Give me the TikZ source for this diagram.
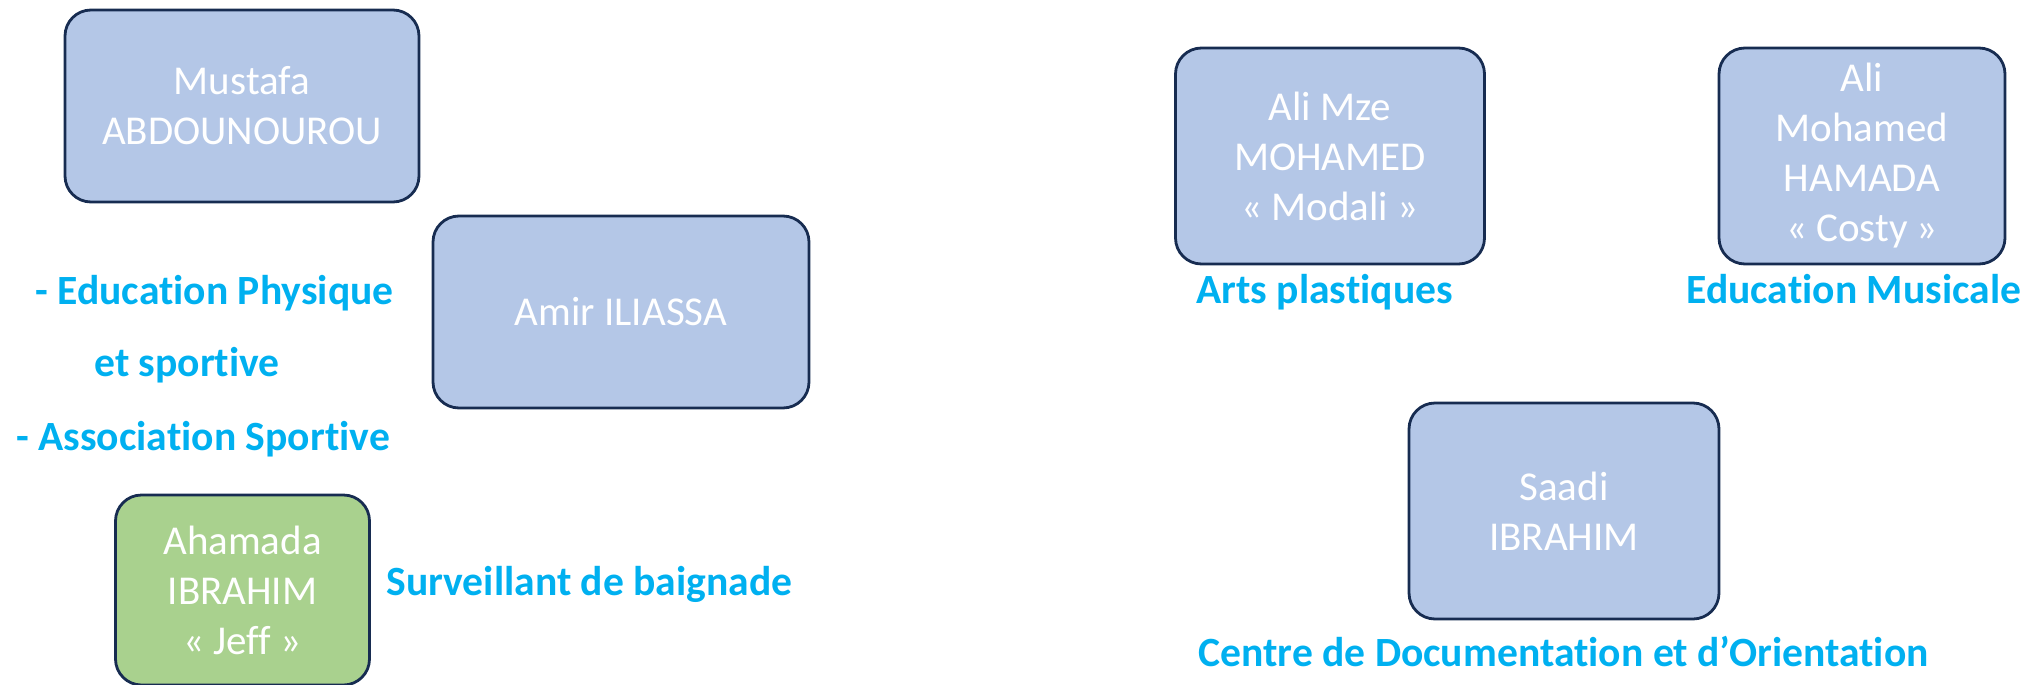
\documentclass[tikz,border=0pt]{standalone}
\usepackage{fontspec}
\setmainfont{Carlito}[Ligatures={NoCommon}]
\definecolor{boxblue}{HTML}{B4C7E7}
\definecolor{boxgreen}{HTML}{A9D18E}
\definecolor{boxline}{HTML}{172C51}
\definecolor{labcyan}{HTML}{00B0F0}
\tikzset{
  person/.style={draw=boxline, line width=1.4pt, rounded corners=13pt, fill=boxblue,
    text=white, align=center, inner sep=0pt,
    font=\fontsize{20.5pt}{25pt}\selectfont},
  lab/.style={text=labcyan, anchor=base west, inner sep=0pt,
    font=\fontsize{20.8pt}{25pt}\selectfont\bfseries},
}
\begin{document}
\begin{tikzpicture}[x=0.5pt,y=-0.5pt]
\useasboundingbox (0,0) rectangle (2039,685);
\begin{scope}
\clip (0,0) rectangle (2039,685);
% boxes
\node[person, minimum width=177pt, minimum height=96pt] (mustafa) at (242,106) {Mustafa\\ABDOUNOUROU};
\node[person, minimum width=188pt, minimum height=96pt] (amir) at (621,312) {Amir ILIASSA};
\node[person, fill=boxgreen, minimum width=127pt, minimum height=95pt] (ahamada) at (242.5,590) {Ahamada\\IBRAHIM\\« Jeff »};
\node[person, minimum width=154.5pt, minimum height=108pt] (alimze) at (1330,156) {Ali Mze\\MOHAMED\\« Modali »};
\node[person, minimum width=143pt, minimum height=108pt] (alimoh) at (1862,156) {Ali\\Mohamed\\HAMADA\\« Costy »};
\node[person, minimum width=155pt, minimum height=108pt] (saadi) at (1564,511) {Saadi\\IBRAHIM};
\end{scope}
% labels
\node[lab] (eps) at (35,304) {- Education Physique};
\node[lab] (eps2) at (94,376) {et sportive};
\node[lab] (as) at (16,450) {- Association Sportive};
\node[lab] (surv) at (386,595) {Surveillant de baignade};
\node[lab] (arts) at (1196,303) {Arts plastiques};
\node[lab] (music) at (1686,303) {Education Musicale};
\node[lab] (cdo) at (1198,666) {Centre de Documentation et d’Orientation};
\end{tikzpicture}
\end{document}
